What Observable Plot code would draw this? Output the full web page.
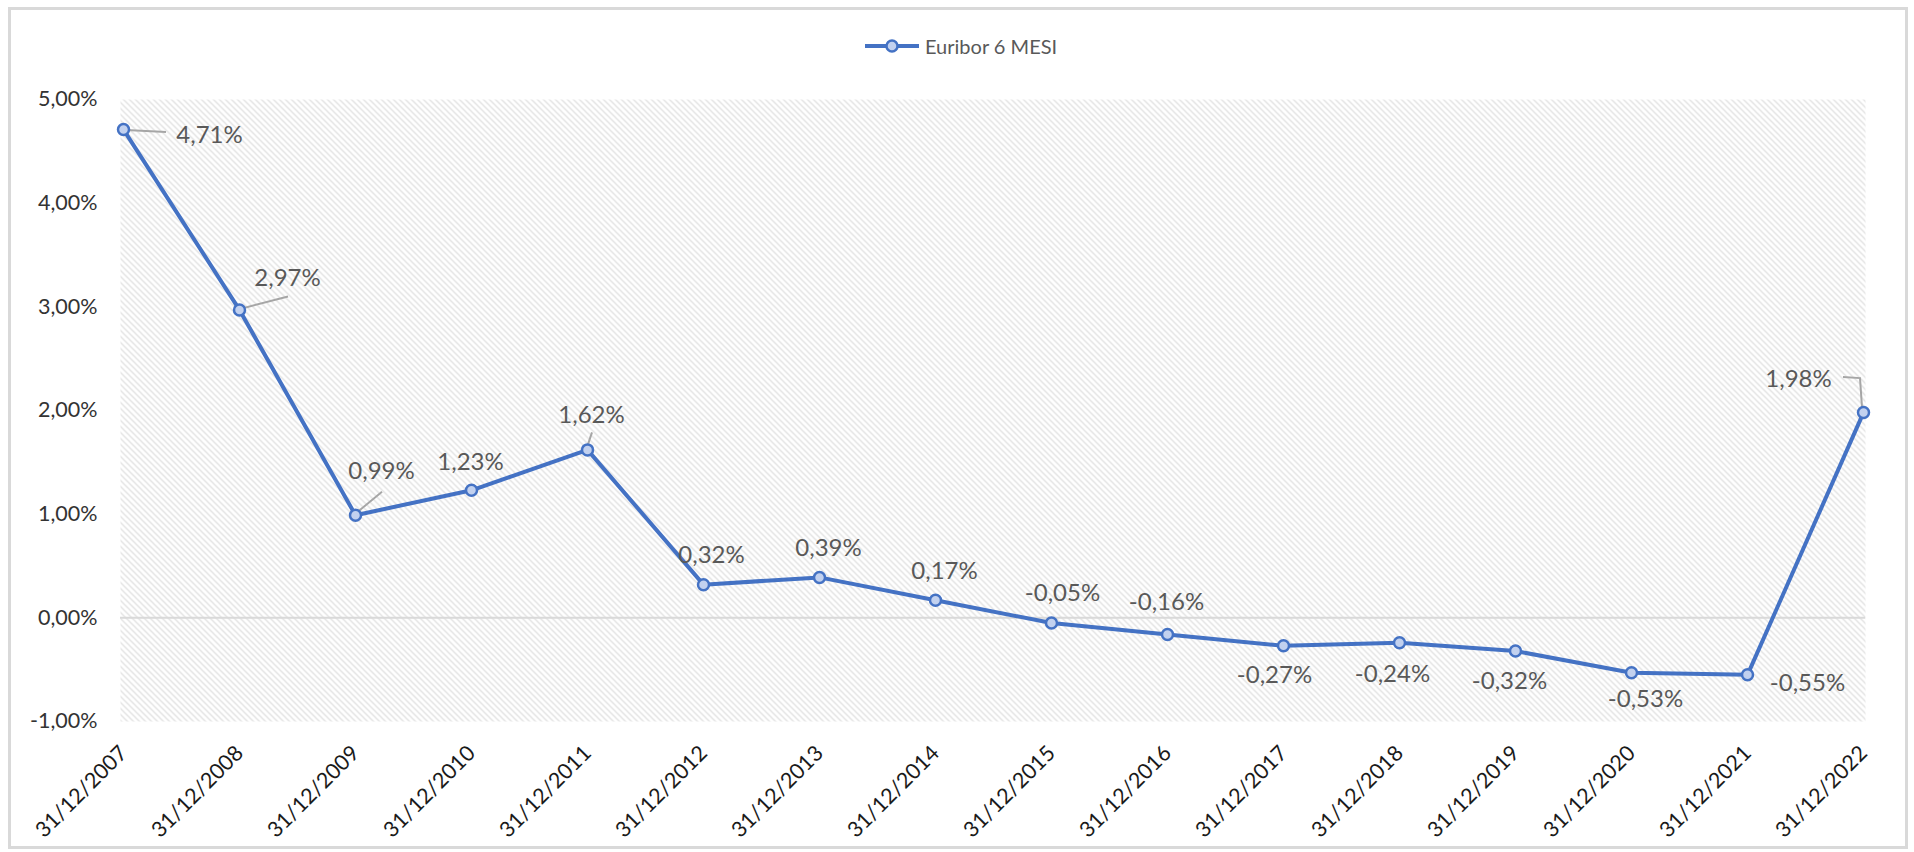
<!DOCTYPE html>
<html>
<head>
<meta charset="utf-8">
<script src="https://cdn.jsdelivr.net/npm/d3@7"></script>
<script src="https://cdn.jsdelivr.net/npm/@observablehq/plot@0.6"></script>
<style>
  html, body { margin: 0; padding: 0; background: #fff; }
  #wrap { position: relative; width: 1914px; height: 852px; overflow: hidden; font-family: Lato, "Open Sans", sans-serif; }
  #border { position: absolute; left: 8px; top: 7px; width: 1894px; height: 836px; border: 3px solid #d9d9d9; }
  #legend { position: absolute; left: 865px; top: 34px; height: 24px; display: flex; align-items: center; gap: 6px; font-size: 20px; color: #595959; }
  #chart { position: absolute; left: 0; top: 0; }
</style>
</head>
<body>
<div id="wrap">
  <div id="border"></div>
  <div id="chart"></div>
  <div id="legend">
    <svg width="54" height="16"><line x1="0" y1="8" x2="54" y2="8" stroke="#4472C4" stroke-width="4"/><circle cx="27" cy="8" r="5.5" fill="#c2d1ef" stroke="#4472C4" stroke-width="2.5"/></svg>
    <span id="legendText"></span>
  </div>
</div>
<script>
// ---- data ----
const seriesName = "Euribor 6 MESI";
const dates = ["31/12/2007","31/12/2008","31/12/2009","31/12/2010","31/12/2011","31/12/2012","31/12/2013","31/12/2014","31/12/2015","31/12/2016","31/12/2017","31/12/2018","31/12/2019","31/12/2020","31/12/2021","31/12/2022"];
const values = [4.71, 2.97, 0.99, 1.23, 1.62, 0.32, 0.39, 0.17, -0.05, -0.16, -0.27, -0.24, -0.32, -0.53, -0.55, 1.98];
const yTicks = [-1, 0, 1, 2, 3, 4, 5];

// ---- label placement (pixel offsets, style only) ----
const labelOffsets = [[86,6],[48,-32],[26,-44],[-1,-28],[4,-35],[8,-29],[9,-29],[9,-29],[11,-30],[-1,-32],[-9,29],[-7,32],[-6,30],[14,27],[60,8],[-65,-33]];
const leaders = [
  [0, [[3,1],[43,3]]],
  [1, [[3,-1],[49,-13]]],
  [2, [[4,-4],[27,-23]]],
  [4, [[1,-5],[5,-17]]],
  [15, [[-1,-5],[-3,-34],[-20,-35]]]
];

document.getElementById("legendText").textContent = seriesName;

const fmt = v => v.toFixed(2).replace(".", ",") + "%";
const rows = dates.map((d, i) => ({date: d, value: values[i]}));

const leaderMark = (index, scales) => {
  const g = d3.create("svg:g").attr("stroke", "#a6a6a6").attr("stroke-width", 2).attr("fill", "none");
  for (const [i, pts] of leaders) {
    const px = scales.x(dates[i]), py = scales.y(values[i]);
    g.append("polyline").attr("points", pts.map(([dx, dy]) => `${px + dx},${py + dy}`).join(" "));
  }
  return g.node();
};

const labelMarks = values.map((v, i) => Plot.text([i], {
  x: j => dates[j], y: j => values[j], text: j => fmt(values[j]),
  dx: labelOffsets[i][0], dy: labelOffsets[i][1],
  fontSize: 24, fill: "#595959", textAnchor: "middle"
}));

const plot = Plot.plot({
  width: 1914, height: 852,
  marginLeft: 120, marginRight: 49, marginTop: 99, marginBottom: 131,
  style: {fontFamily: "Lato, 'Open Sans', sans-serif", fontSize: "20px", background: "transparent", overflow: "visible"},
  x: {type: "point", domain: dates, padding: 0, axis: null},
  y: {domain: [-1, 5], axis: null},
  marks: [
    Plot.frame({fill: "url(#hatch)", stroke: "none"}),
    Plot.ruleY([0], {stroke: "#d9d9d9", strokeWidth: 2}),
    Plot.axisY(yTicks, {tickSize: 0, tickPadding: 23, tickFormat: fmt, fontSize: 21.5, fill: "#333333", label: null}),
    Plot.text(dates, {x: d => d, frameAnchor: "bottom", rotate: -45, textAnchor: "end", dx: 5, dy: 33, fontSize: 21.5, fill: "#1a1a1a"}),
    leaderMark,
    Plot.line(rows, {x: "date", y: "value", stroke: "#4472C4", strokeWidth: 4}),
    Plot.dot(rows, {x: "date", y: "value", r: 5.5, fill: "#c2d1ef", stroke: "#4472C4", strokeWidth: 2.5}),
    ...labelMarks
  ]
});

const ns = "http://www.w3.org/2000/svg";
const defs = document.createElementNS(ns, "defs");
defs.innerHTML = '<pattern id="hatch" patternUnits="userSpaceOnUse" width="6" height="6"><path d="M-1,-1 L7,7 M-1,5 L1,7 M5,-1 L7,1" stroke="#d9d9d9" stroke-width="1.2"/></pattern>';
plot.insertBefore(defs, plot.firstChild);
document.getElementById("chart").appendChild(plot);
</script>
</body>
</html>
